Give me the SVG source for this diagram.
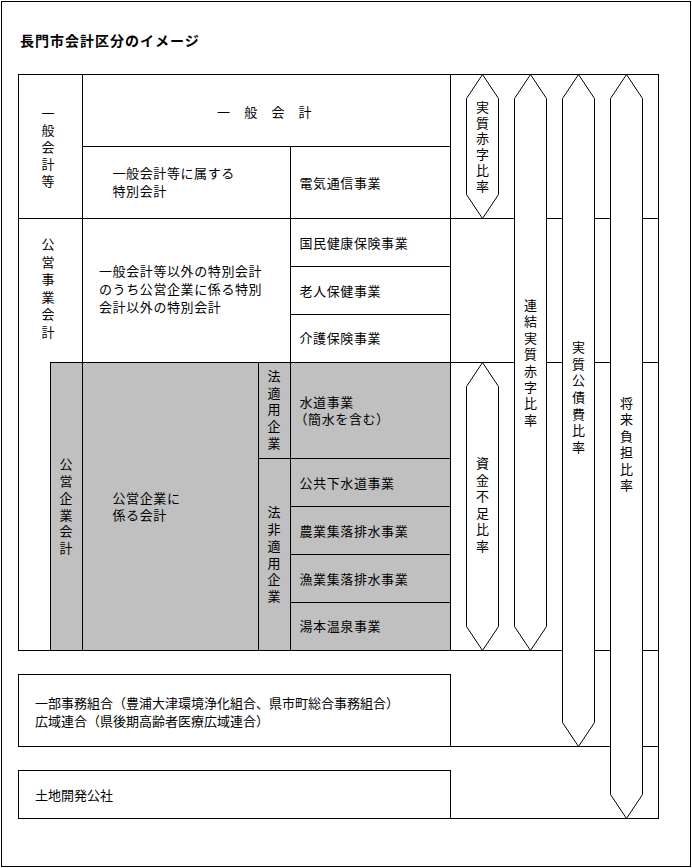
<svg xmlns="http://www.w3.org/2000/svg" width="692" height="868" viewBox="0 0 692 868">
<style>
.c{fill:#fff;stroke:#000;stroke-width:1;shape-rendering:crispEdges}
.g{fill:#c0c0c0;stroke:#000;stroke-width:1;shape-rendering:crispEdges}
.ln{fill:none;stroke:#000;stroke-width:1;shape-rendering:crispEdges}
.ar{fill:#fff;stroke:#000;stroke-width:1}
.t{font-family:"Noto Sans CJK JP","Noto Sans CJK SC",sans-serif;font-size:13px;letter-spacing:0.6px;fill:#000}
.tb{font-family:"Noto Sans CJK JP","Noto Sans CJK SC",sans-serif;font-size:13px;fill:#000}
.v{font-family:"Noto Sans CJK JP","Noto Sans CJK SC",sans-serif;font-size:13px;fill:#000;writing-mode:vertical-rl;text-orientation:upright}
.title{font-family:"Noto Sans CJK JP","Noto Sans CJK SC",sans-serif;font-size:14px;font-weight:bold;letter-spacing:1px;fill:#000}
</style>
<rect x="0" y="0" width="692" height="868" fill="#fff"/>
<rect class="ln" x="1.5" y="1.5" width="688.5" height="865"/>
<text class="title" x="20" y="45.5">長門市会計区分のイメージ</text>

<g id="connectors">
<rect class="ln" x="450.5" y="74.5" width="208" height="576"/>
<line class="ln" x1="450" y1="218.5" x2="658" y2="218.5"/>
<line class="ln" x1="450" y1="362.5" x2="658" y2="362.5"/>
<line class="ln" x1="658.5" y1="650" x2="658.5" y2="818.5"/>
<line class="ln" x1="450" y1="746.5" x2="658" y2="746.5"/>
<line class="ln" x1="450" y1="818.5" x2="658" y2="818.5"/>
</g>

<g id="n-ippan-tou"><rect class="c" x="18.5" y="74.5" width="64" height="144"/>
<text class="v" x="48" y="106.5" style="letter-spacing:4px">一般会計等</text></g>
<g id="n-ippan-kaikei"><rect class="c" x="82.5" y="74.5" width="368" height="72"/>
<text class="t" x="217" y="116.5">一　般　会　計</text></g>
<g id="n-zokusuru"><rect class="c" x="82.5" y="146.5" width="208" height="72"/>
<text class="t" x="112.5" y="178">一般会計等に属する<tspan x="112.5" y="196">特別会計</tspan></text></g>
<g id="n-denki"><rect class="c" x="290.5" y="146.5" width="160" height="72"/>
<text class="t" x="299.5" y="188">電気通信事業</text></g>

<g id="n-koei-jigyo"><rect class="c" x="18.5" y="218.5" width="64" height="432"/>
<text class="v" x="48" y="237.5" style="letter-spacing:4.6px">公営事業会計</text></g>
<g id="n-igai"><rect class="c" x="82.5" y="218.5" width="208" height="144"/>
<text class="t" x="99" y="276">一般会計等以外の特別会計<tspan x="99" y="294">のうち公営企業に係る特別</tspan><tspan x="99" y="312">会計以外の特別会計</tspan></text></g>
<g id="n-kokumin"><rect class="c" x="290.5" y="218.5" width="160" height="48"/>
<text class="t" x="299.5" y="248">国民健康保険事業</text></g>
<g id="n-rojin"><rect class="c" x="290.5" y="266.5" width="160" height="48"/>
<text class="t" x="299.5" y="296">老人保健事業</text></g>
<g id="n-kaigo"><rect class="c" x="290.5" y="314.5" width="160" height="48"/>
<text class="t" x="299.5" y="343">介護保険事業</text></g>

<g id="n-koei-kigyo"><rect class="g" x="50.5" y="362.5" width="32" height="288"/>
<text class="v" x="66" y="457.8" style="letter-spacing:3.8px">公営企業会計</text></g>
<g id="n-kakaru"><rect class="g" x="82.5" y="362.5" width="176" height="288"/>
<text class="t" x="112.5" y="502.5">公営企業に<tspan x="112.5" y="520">係る会計</tspan></text></g>
<g id="n-ho-tekiyo"><rect class="g" x="258.5" y="362.5" width="32" height="96"/>
<text class="v" x="274" y="369.2" style="letter-spacing:3.9px">法適用企業</text></g>
<g id="n-ho-hitekiyo"><rect class="g" x="258.5" y="458.5" width="32" height="192"/>
<text class="v" x="274" y="505.8" style="letter-spacing:3.8px">法非適用企業</text></g>
<g id="n-suido"><rect class="g" x="290.5" y="362.5" width="160" height="96"/>
<text class="t" x="299.5" y="406.5">水道事業<tspan x="294.5" y="424">（簡水を含む）</tspan></text></g>
<g id="n-gesui"><rect class="g" x="290.5" y="458.5" width="160" height="48"/>
<text class="t" x="299.5" y="487.5">公共下水道事業</text></g>
<g id="n-nogyo"><rect class="g" x="290.5" y="506.5" width="160" height="48"/>
<text class="t" x="299.5" y="536">農業集落排水事業</text></g>
<g id="n-gyogyo"><rect class="g" x="290.5" y="554.5" width="160" height="48"/>
<text class="t" x="299.5" y="583.5">漁業集落排水事業</text></g>
<g id="n-yumoto"><rect class="g" x="290.5" y="602.5" width="160" height="48"/>
<text class="t" x="299.5" y="631">湯本温泉事業</text></g>

<g id="n-kumiai"><rect class="c" x="18.5" y="674.5" width="432" height="72"/>
<text class="tb" x="35" y="707.5">一部事務組合（豊浦大津環境浄化組合、県市町総合事務組合）<tspan x="35" y="725.5">広域連合（県後期高齢者医療広域連合）</tspan></text></g>
<g id="n-kosha"><rect class="c" x="18.5" y="770.5" width="432" height="48"/>
<text class="tb" x="35" y="800">土地開発公社</text></g>

<g id="a-jisshitsu-akaji"><polygon class="ar" points="482.5,74.5 498.5,98.5 498.5,194.5 482.5,218.5 466.5,194.5 466.5,98.5"/>
<text class="v" x="482.5" y="100.2" style="letter-spacing:2.9px">実質赤字比率</text></g>
<g id="a-renketsu"><polygon class="ar" points="530.5,74.5 546.5,98.5 546.5,626.5 530.5,650.5 514.5,626.5 514.5,98.5"/>
<text class="v" x="530.5" y="298.5" style="letter-spacing:3.4px">連結実質赤字比率</text></g>
<g id="a-kosaihi"><polygon class="ar" points="578.5,74.5 594.5,98.5 594.5,722.5 578.5,746.5 562.5,722.5 562.5,98.5"/>
<text class="v" x="578.5" y="340.5" style="letter-spacing:3.7px">実質公債費比率</text></g>
<g id="a-shorai"><polygon class="ar" points="626.5,74.5 642.5,98.5 642.5,794.5 626.5,818.5 610.5,794.5 610.5,98.5"/>
<text class="v" x="626.5" y="396.5" style="letter-spacing:3.5px">将来負担比率</text></g>
<g id="a-shikin"><polygon class="ar" points="482.5,362.5 498.5,386.5 498.5,626.5 482.5,650.5 466.5,626.5 466.5,386.5"/>
<text class="v" x="482.5" y="456.5" style="letter-spacing:3.6px">資金不足比率</text></g>
</svg>
